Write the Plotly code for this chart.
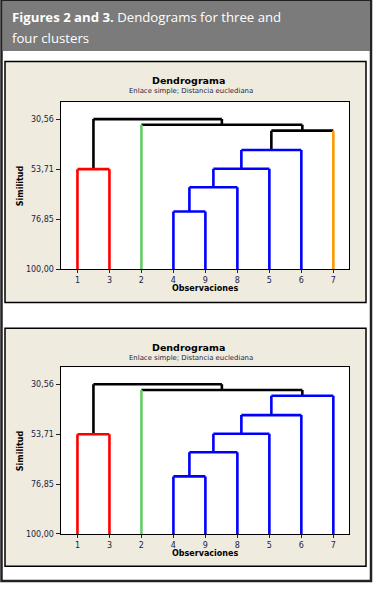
import plotly.graph_objects as go

W, H = 373, 590

# ---------------- data ----------------
leaf_labels = ["1", "3", "2", "4", "9", "8", "5", "6", "7"]
# merges (scipy-like ids: leaves 0..8 in display order, merges 9..)
merge_left = [3, 9, 0, 10, 12, 13, 2, 11]
merge_right = [4, 5, 1, 6, 7, 8, 14, 15]
merge_sim = [73.3, 62.1, 53.71, 53.5, 44.85, 35.9, 33.2, 30.56]
ytick_vals = [30.56, 53.71, 76.85, 100.00]
ytick_text = ["30,56", "53,71", "76,85", "100,00"]

# cluster colours per leaf for the two figures
leaf_colors_4 = ["#ff0000", "#ff0000", "#66cc66", "#0000ff", "#0000ff",
                 "#0000ff", "#0000ff", "#0000ff", "#ff9900"]
leaf_colors_3 = ["#ff0000", "#ff0000", "#66cc66", "#0000ff", "#0000ff",
                 "#0000ff", "#0000ff", "#0000ff", "#0000ff"]
cut_4 = 40.0   # similarity cut giving four clusters
cut_3 = 34.5   # similarity cut giving three clusters


def px(x):
    return x / W


def py(y):
    return 1 - y / H


def dendro_segments(leaf_colors, cut):
    n = len(leaf_labels)
    xpos = {i: float(i) for i in range(n)}
    ypos = {i: 100.0 for i in range(n)}
    members = {i: [i] for i in range(n)}
    segs = []
    for k, (a, b, s) in enumerate(zip(merge_left, merge_right, merge_sim)):
        cid = n + k
        mem = members[a] + members[b]
        cols = set(leaf_colors[m] for m in mem)
        within = s > cut and len(cols) == 1
        link_col = leaf_colors[mem[0]] if within else "#000000"
        for c in (a, b):
            if within:
                col = link_col
            elif c < n:
                col = leaf_colors[c]
            else:
                col = "#000000"
            segs.append(([xpos[c], xpos[c]], [ypos[c], s], col))
        segs.append(([xpos[a], xpos[b]], [s, s], link_col))
        xpos[cid] = (xpos[a] + xpos[b]) / 2
        ypos[cid] = s
        members[cid] = mem
    return segs


fig = go.Figure()

PL, PR = 60.5, 349
panels = [
    dict(leaf_colors=leaf_colors_4, cut=cut_4, top=62, bottom=305,
         ptop=103, pbot=271.5, xa="x", ya="y"),
    dict(leaf_colors=leaf_colors_3, cut=cut_3, top=331, bottom=571,
         ptop=370.5, pbot=538.5, xa="x2", ya="y2"),
]

shapes = [
    # outer frame
    dict(type="rect", xref="paper", yref="paper", x0=px(1.5), x1=px(371),
         y0=py(586), y1=py(0.5), line=dict(color="#222222", width=2.5),
         fillcolor="white", layer="below"),
    # header band
    dict(type="rect", xref="paper", yref="paper", x0=px(2.5), x1=px(370),
         y0=py(51.5), y1=py(1), line=dict(width=0), fillcolor="#7b7b7b",
         layer="below"),
]


def ann(text, x, y, size, color, family, xanchor="center", angle=0):
    return dict(text=text, x=px(x), y=py(y), xref="paper", yref="paper",
                xanchor=xanchor, yanchor="middle", showarrow=False,
                textangle=angle,
                font=dict(family=family, size=size, color=color))


annotations = [
    ann("<b>Figures 2 and 3.</b> Dendograms for three and", 9.5, 17, 13.2,
        "white", "Open Sans", "left"),
    ann("four clusters", 9.5, 38, 13.2, "white", "Open Sans", "left"),
]

FONT = "DejaVu Sans"
TXT = "#1c1c44"

for i, p in enumerate(panels):
    sfx = "" if i == 0 else "2"
    shapes.append(dict(type="rect", xref="paper", yref="paper",
                       x0=px(5), x1=px(366), y0=py(p["bottom"]),
                       y1=py(p["top"]), line=dict(color="black", width=1.5),
                       fillcolor="#efebde", layer="below"))
    shapes.append(dict(type="rect", xref="paper", yref="paper",
                       x0=px(PL), x1=px(PR), y0=py(p["pbot"]),
                       y1=py(p["ptop"]), line=dict(width=0),
                       fillcolor="#ffffff", layer="below"))
    segs = dendro_segments(p["leaf_colors"], p["cut"])
    by_col = {}
    for xs, ys, c in segs:
        d = by_col.setdefault(c, ([], []))
        d[0].extend(xs + [None])
        d[1].extend(ys + [None])
    for c in ["#000000"] + [k for k in by_col if k != "#000000"]:
        if c not in by_col:
            continue
        xs, ys = by_col[c]
        fig.add_trace(go.Scatter(x=xs, y=ys, mode="lines",
                                 line=dict(color=c, width=2.6),
                                 xaxis=p["xa"], yaxis=p["ya"],
                                 showlegend=False, hoverinfo="skip"))
    annotations += [
        ann("<b>Dendrograma</b>", 188, p["top"] + 19, 9.5, "black", FONT),
        ann("Enlace simple; Distancia euclediana", 190.5, p["top"] + 30,
            6.9, TXT, FONT),
        ann("<b>Similitud</b>", 20.5, (p["ptop"] + p["pbot"]) / 2, 8,
            "black", FONT, angle=-90),
        ann("<b>Observaciones</b>", 204.5, p["pbot"] + 19.5, 8, "black",
            FONT),
    ]
    fig.layout["xaxis" + sfx] = dict(
        domain=[px(PL), px(PR)], range=[-0.53, 8.49],
        anchor="y" + sfx, tickmode="array",
        tickvals=list(range(len(leaf_labels))), ticktext=leaf_labels,
        ticks="outside", ticklen=3, tickwidth=1, tickcolor="#222222",
        showline=True, mirror=True, linecolor="black", linewidth=1,
        showgrid=False, zeroline=False, fixedrange=True,
        tickfont=dict(family=FONT, size=8, color=TXT))
    fig.layout["yaxis" + sfx] = dict(
        domain=[py(p["pbot"]), py(p["ptop"])], range=[100, 22.7],
        anchor="x" + sfx, tickmode="array", tickvals=ytick_vals,
        ticktext=ytick_text, ticks="outside", ticklen=4, tickwidth=1,
        tickcolor="#222222", showline=True, mirror=True, linecolor="black",
        linewidth=1, showgrid=False, zeroline=False, fixedrange=True,
        tickfont=dict(family=FONT, size=8, color=TXT))

fig.update_layout(width=W, height=H, margin=dict(l=0, r=0, t=0, b=0),
                  paper_bgcolor="white", plot_bgcolor="white",
                  shapes=shapes, annotations=annotations, showlegend=False)

fig.write_html("out.html", config={"displayModeBar": False},
               post_script="document.body.style.margin='0';"
                           "document.body.style.overflow='hidden';")
